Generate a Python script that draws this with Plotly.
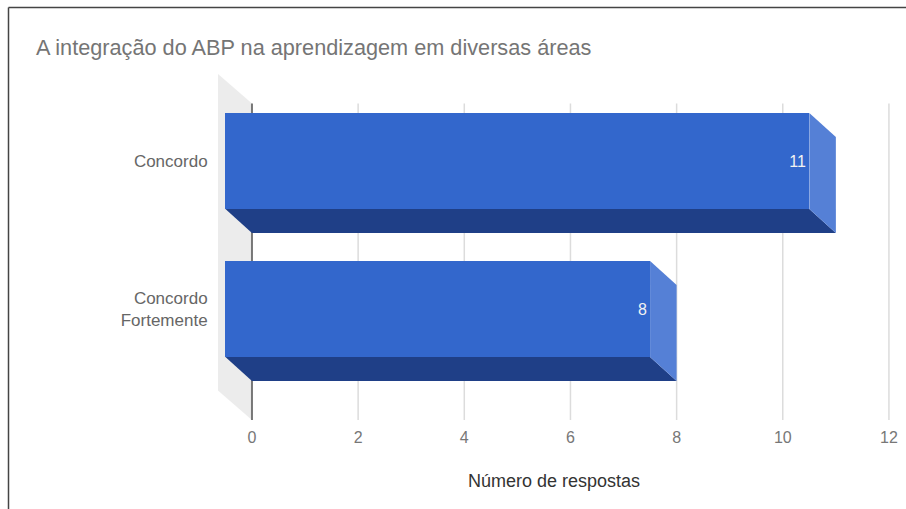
import plotly.graph_objects as go

categories = ["Concordo", "Concordo<br>Fortemente"]
respostas = [11, 8]
x_ticks = [0, 2, 4, 6, 8, 10, 12]

title_text = "A integração do ABP na aprendizagem em diversas áreas"
x_title = "Número de respostas"

W, H = 906, 509
# plot area in pixels
left, right, top, bottom = 218, 890, 74, 420

# the fake 3D depth, in axis units
depth_x = 0.5
depth_y = 0.162
bar_h = 0.649
x_range = [-0.64, 12.02]
y_range = [1.75, -0.588]
y_pos = list(range(len(categories)))


def px(v):
    return (v - left) / (right - left)


def py(v):
    return (bottom - v) / (bottom - top)


fig = go.Figure()

# front face of the bars
fig.add_trace(go.Bar(
    y=y_pos, x=respostas, base=-depth_x, orientation="h", width=bar_h,
    marker=dict(color="#3367cc", line=dict(width=0)),
    text=[str(v) for v in respostas], textposition="inside",
    insidetextanchor="end", constraintext="none",
    textfont=dict(color="#f2f2f2", size=16, family="Liberation Sans"),
    showlegend=False,
))

# bottom and side faces
for y, v in zip(y_pos, respostas):
    y0 = y - bar_h / 2
    y1 = y + bar_h / 2
    fig.add_trace(go.Scatter(
        x=[-depth_x, v - depth_x, v, 0, -depth_x],
        y=[y1, y1, y1 + depth_y, y1 + depth_y, y1],
        mode="lines", fill="toself", fillcolor="#1f3f87",
        line=dict(width=0), showlegend=False,
    ))
    fig.add_trace(go.Scatter(
        x=[v - depth_x, v, v, v - depth_x, v - depth_x],
        y=[y0, y0 + depth_y, y1 + depth_y, y1, y0],
        mode="lines", fill="toself", fillcolor="#5580d6",
        line=dict(width=0), showlegend=False,
    ))

shapes = []
# grey wall on the left
wall_top = y_range[1] + 0.2
shapes.append(dict(
    type="path", layer="below", xref="x", yref="y", line=dict(width=0), fillcolor="#ececec",
    path=f"M {x_range[0]} {y_range[1]} L 0 {wall_top} L 0 {y_range[0]} "
         f"L {x_range[0]} {y_range[0] - 0.2} Z",
))
# gridlines start at the back plane
for t in x_ticks:
    shapes.append(dict(
        type="line", layer="below", xref="x", yref="y", x0=t, x1=t,
        y0=wall_top, y1=y_range[0],
        line=dict(color="#777777" if t == 0 else "#dcdcdc", width=2 if t == 0 else 1.5),
    ))
# scan border, only top and left are in the picture
shapes.append(dict(type="line", xref="paper", yref="paper", x0=px(8.5), x1=px(W),
                   y0=py(7.5), y1=py(7.5), line=dict(color="#444444", width=1.5)))
shapes.append(dict(type="line", xref="paper", yref="paper", x0=px(8.5), x1=px(8.5),
                   y0=py(7.5), y1=py(H), line=dict(color="#444444", width=1.5)))

fig.update_layout(
    width=W, height=H,
    margin=dict(l=left, r=W - right, t=top, b=H - bottom, pad=0, autoexpand=False),
    paper_bgcolor="white", plot_bgcolor="white",
    font=dict(family="Liberation Sans", color="#666666"),
    bargap=0,
    shapes=shapes,
    annotations=[dict(
        text=title_text, xref="paper", yref="paper", x=px(34), y=py(47),
        xanchor="left", yanchor="middle", showarrow=False,
        font=dict(size=21.7, color="#757575"),
    )],
    xaxis=dict(
        range=x_range, tickvals=x_ticks, showgrid=False, zeroline=False, showline=False,
        ticks="outside", ticklen=3, tickcolor="rgba(0,0,0,0)",
        tickfont=dict(size=16, color="#777777"),
        title=dict(text=x_title, standoff=29, font=dict(size=18, color="#333333")),
    ),
    yaxis=dict(
        range=y_range, tickvals=y_pos, ticktext=categories, showgrid=False,
        zeroline=False, showline=False,
        ticks="outside", ticklen=6, tickcolor="rgba(0,0,0,0)",
        tickfont=dict(size=17, color="#666666"),
    ),
)

fig.write_html(
    "out.html",
    config=dict(displayModeBar=False),
    post_script="document.body.style.margin='0';document.documentElement.style.overflow='hidden';",
)
